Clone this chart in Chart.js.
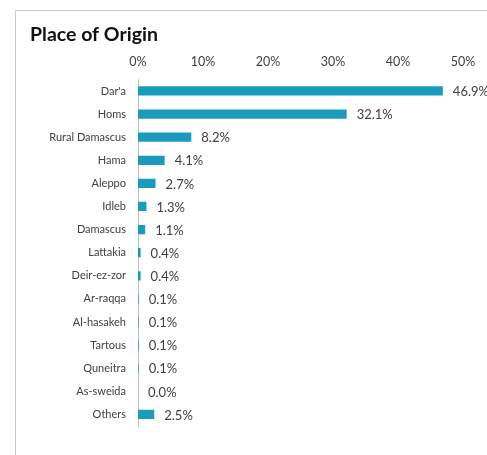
<!DOCTYPE html>
<html>
<head>
<meta charset="utf-8">
<script src="https://cdn.jsdelivr.net/npm/chart.js@4"></script>
<style>
  html, body { margin: 0; padding: 0; background: #fff; }
  #frame { position: absolute; left: 15px; top: 10px; width: 520px; height: 500px; border: 1px solid #c9c9c9; }
  #wrap { position: absolute; left: 0; top: 0; width: 487px; height: 455px; }
</style>
</head>
<body>
<div id="frame"></div>
<div id="wrap"><canvas id="chart" width="487" height="455"></canvas></div>
<script>
const places = ["Dar'a", "Homs", "Rural Damascus", "Hama", "Aleppo", "Idleb", "Damascus",
  "Lattakia", "Deir-ez-zor", "Ar-raqqa", "Al-hasakeh", "Tartous", "Quneitra", "As-sweida", "Others"];
const shares = [46.9, 32.1, 8.2, 4.1, 2.7, 1.3, 1.1, 0.4, 0.4, 0.1, 0.1, 0.1, 0.1, 0.0, 2.5];
const tickValues = [0, 10, 20, 30, 40, 50];

// value labels at the end of each bar
const valueLabels = {
  id: "valueLabels",
  afterDatasetsDraw(chart) {
    const ctx = chart.ctx;
    const meta = chart.getDatasetMeta(0);
    ctx.save();
    ctx.font = "13px Lato";
    ctx.fillStyle = "#404040";
    ctx.textBaseline = "middle";
    ctx.textAlign = "left";
    meta.data.forEach((bar, i) => {
      ctx.fillText(shares[i].toFixed(1) + "%", bar.x + 10, bar.y + 1);
    });
    ctx.restore();
  },
};

new Chart(document.getElementById("chart"), {
  type: "bar",
  data: {
    labels: places,
    datasets: [
      {
        data: shares,
        backgroundColor: "#1b9bbb",
        barPercentage: 0.4,
        categoryPercentage: 1,
      },
    ],
  },
  options: {
    indexAxis: "y",
    responsive: false,
    animation: false,
    layout: { padding: { top: 23, left: 30, right: 24, bottom: 29 } },
    plugins: {
      legend: { display: false },
      tooltip: { enabled: false },
      title: {
        display: true,
        text: "Place of Origin",
        align: "start",
        color: "#111",
        font: { family: "Lato", size: 19.5, weight: "bold" },
        padding: { top: 0, bottom: 0 },
      },
    },
    scales: {
      x: {
        position: "top",
        min: 0,
        max: 50,
        afterBuildTicks: (scale) => {
          scale.ticks = tickValues.map((v) => ({ value: v }));
        },
        afterFit: (scale) => {
          scale.height = 33;
        },
        grid: { display: false, drawTicks: false },
        border: { display: false },
        ticks: {
          padding: 10,
          color: "#404040",
          font: { family: "Lato", size: 12.5 },
          callback: (v) => v + "%",
        },
      },
      y: {
        afterFit: (scale) => {
          scale.width = 108;
        },
        grid: { display: false, drawTicks: false },
        border: { display: true, color: "#bfbfbf", width: 1 },
        ticks: {
          padding: 12,
          color: "#404040",
          font: { family: "Lato", size: 11 },
        },
      },
    },
  },
  plugins: [valueLabels],
});
</script>
</body>
</html>
